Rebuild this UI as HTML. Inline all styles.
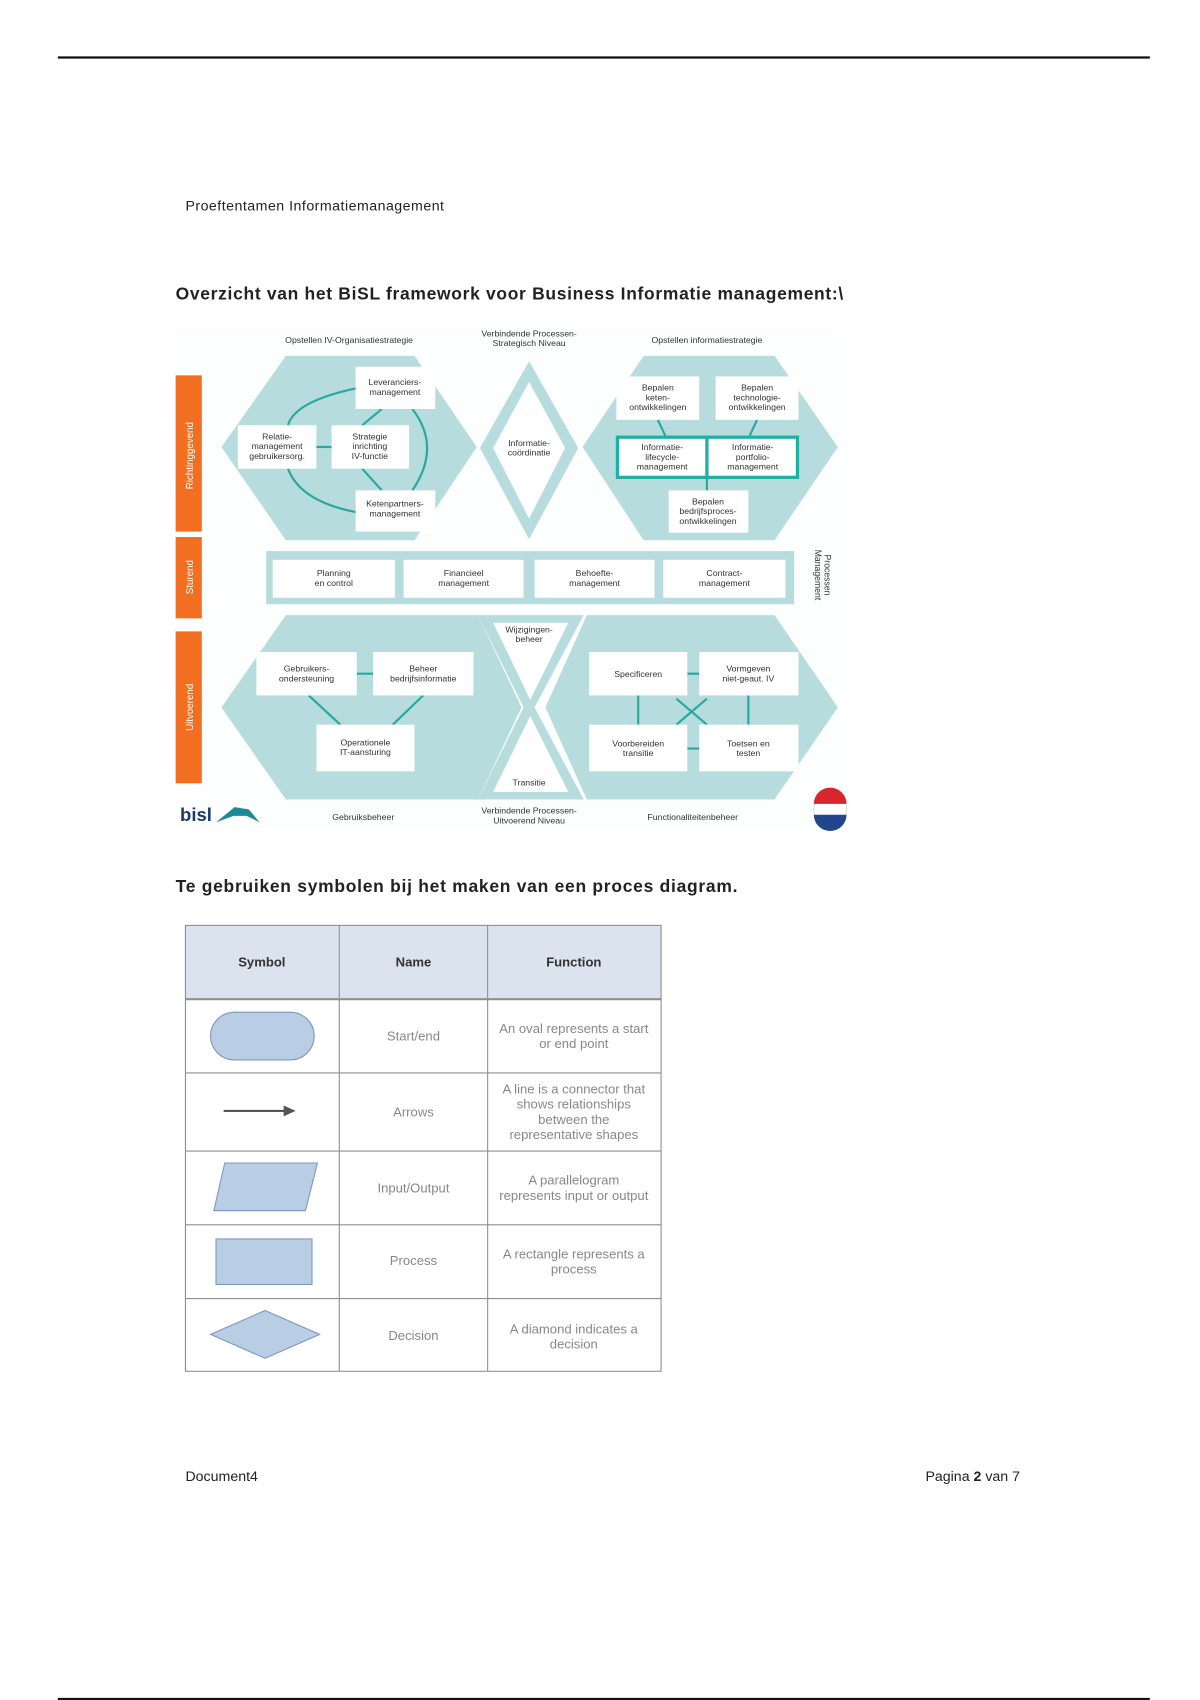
<!DOCTYPE html>
<html><head><meta charset="utf-8"><style>
html,body{margin:0;padding:0;background:#fff;}
svg{display:block;}
text{font-family:"Liberation Sans",sans-serif;}
</style></head><body>
<svg width="1200" height="1700" viewBox="0 0 1100 1567" preserveAspectRatio="none" xmlns="http://www.w3.org/2000/svg">
<rect width="1100" height="1567" fill="#fff"/>
<line x1="53" y1="53" x2="1054" y2="53" stroke="#111" stroke-width="2"/>
<line x1="53" y1="1566" x2="1054" y2="1566" stroke="#111" stroke-width="2"/>
<text x="170" y="194" font-size="13" fill="#222" textLength="237">Proeftentamen Informatiemanagement</text>
<text x="161" y="276" font-size="16" font-weight="bold" fill="#222" textLength="612">Overzicht van het BiSL framework voor Business Informatie management:\</text>

<g>
<rect x="160" y="300" width="620" height="465" fill="#fdfefe"/>
<rect x="161" y="346" width="24" height="144" fill="#f26f21"/>
<rect x="161" y="495" width="24" height="75" fill="#f26f21"/>
<rect x="161" y="582" width="24" height="140" fill="#f26f21"/>
<g font-size="9" fill="#fff" text-anchor="middle">
<text transform="translate(177,420) rotate(-90)">Richtinggevend</text>
<text transform="translate(177,532) rotate(-90)">Sturend</text>
<text transform="translate(177,652) rotate(-90)">Uitvoerend</text>
</g>
<g fill="#b7dcdd">
<polygon points="203,412 262,328 380,328 437,412 380,498 262,498"/>
<polygon points="534,412 590,328 710,328 768,412 710,498 590,498"/>
<polygon points="485,333 530,413 485,497 440,413"/>
<rect x="244" y="508" width="484" height="49"/>
<polygon points="203,652 262,567 438,567 478,652 438,737 262,737"/>
<polygon points="500,652 538,567 710,567 768,652 710,737 538,737"/>
<polygon points="438,567 535,567 490,652 535,737 438,737 480,652"/>
</g>
<polygon points="485,352 518,413 485,478 452,413" fill="#fff"/>
<polygon points="452,574 521,574 486,645" fill="#fff"/>
<polygon points="486,660 521,730 452,730" fill="#fff"/>
<g stroke="#2aa8a0" stroke-width="2" fill="none">
<path d="M326,358 Q270,370 264,392"/>
<path d="M264,432 Q275,462 326,472"/>
<path d="M378,377 Q405,412 378,452"/>
<line x1="350" y1="377" x2="332" y2="392"/><line x1="332" y1="432" x2="350" y2="452"/>
<line x1="290" y1="412" x2="304" y2="412"/>
<line x1="603" y1="387" x2="610" y2="402"/><line x1="694" y1="387" x2="687" y2="402"/>
<line x1="648" y1="441" x2="648" y2="452"/>
<line x1="327" y1="621" x2="342" y2="621"/>
<line x1="283" y1="641" x2="312" y2="668"/><line x1="388" y1="641" x2="360" y2="668"/>
<line x1="630" y1="621" x2="641" y2="621"/><line x1="630" y1="690" x2="641" y2="690"/>
<line x1="585" y1="641" x2="585" y2="668"/><line x1="686" y1="641" x2="686" y2="668"/>
<line x1="620" y1="644" x2="648" y2="668"/><line x1="648" y1="644" x2="620" y2="668"/>
</g>
<g fill="#fff">
<rect x="326" y="338" width="73" height="39"/><rect x="218" y="392" width="72" height="40"/>
<rect x="304" y="392" width="71" height="40"/><rect x="326" y="452" width="73" height="38"/>
<rect x="565" y="347" width="76" height="40"/><rect x="656" y="347" width="76" height="40"/>
<rect x="613" y="452" width="73" height="39"/>
<rect x="250" y="516" width="112" height="35"/><rect x="370" y="516" width="110" height="35"/>
<rect x="490" y="516" width="110" height="35"/><rect x="608" y="516" width="112" height="35"/>
<rect x="235" y="601" width="92" height="40"/><rect x="342" y="601" width="92" height="40"/>
<rect x="290" y="668" width="90" height="43"/>
<rect x="540" y="601" width="90" height="40"/><rect x="641" y="601" width="91" height="40"/>
<rect x="540" y="668" width="90" height="43"/><rect x="641" y="668" width="91" height="43"/>
</g>
<rect x="566" y="403" width="165" height="37" fill="#fff" stroke="#1fb0a5" stroke-width="3"/>
<line x1="648" y1="403" x2="648" y2="440" stroke="#1fb0a5" stroke-width="3"/>
<g font-size="8" fill="#333" text-anchor="middle" font-family="Liberation Serif, serif">
<text x="362" y="355">Leveranciers-</text><text x="362" y="364">management</text>
<text x="254" y="405">Relatie-</text><text x="254" y="414">management</text><text x="254" y="423">gebruikersorg.</text>
<text x="339" y="405">Strategie</text><text x="339" y="414">inrichting</text><text x="339" y="423">IV-functie</text>
<text x="362" y="467">Ketenpartners-</text><text x="362" y="476">management</text>
<text x="485" y="411">Informatie-</text><text x="485" y="420">coördinatie</text>
<text x="603" y="360">Bepalen</text><text x="603" y="369">keten-</text><text x="603" y="378">ontwikkelingen</text>
<text x="694" y="360">Bepalen</text><text x="694" y="369">technologie-</text><text x="694" y="378">ontwikkelingen</text>
<text x="607" y="415">Informatie-</text><text x="607" y="424">lifecycle-</text><text x="607" y="433">management</text>
<text x="690" y="415">Informatie-</text><text x="690" y="424">portfolio-</text><text x="690" y="433">management</text>
<text x="649" y="465">Bepalen</text><text x="649" y="474">bedrijfsproces-</text><text x="649" y="483">ontwikkelingen</text>
<text x="306" y="531">Planning</text><text x="306" y="540">en control</text>
<text x="425" y="531">Financieel</text><text x="425" y="540">management</text>
<text x="545" y="531">Behoefte-</text><text x="545" y="540">management</text>
<text x="664" y="531">Contract-</text><text x="664" y="540">management</text>
<text x="281" y="619">Gebruikers-</text><text x="281" y="628">ondersteuning</text>
<text x="388" y="619">Beheer</text><text x="388" y="628">bedrijfsinformatie</text>
<text x="335" y="687">Operationele</text><text x="335" y="696">IT-aansturing</text>
<text x="485" y="583">Wijzigingen-</text><text x="485" y="592">beheer</text>
<text x="485" y="724">Transitie</text>
<text x="585" y="624">Specificeren</text>
<text x="686" y="619">Vormgeven</text><text x="686" y="628">niet-geaut. IV</text>
<text x="585" y="688">Voorbereiden</text><text x="585" y="697">transitie</text>
<text x="686" y="688">Toetsen en</text><text x="686" y="697">testen</text>
<text x="320" y="316">Opstellen IV-Organisatiestrategie</text>
<text x="485" y="310">Verbindende Processen-</text><text x="485" y="319">Strategisch Niveau</text>
<text x="648" y="316">Opstellen informatiestrategie</text>
<text x="333" y="756">Gebruiksbeheer</text>
<text x="485" y="750">Verbindende Processen-</text><text x="485" y="759">Uitvoerend Niveau</text>
<text x="635" y="756">Functionaliteitenbeheer</text>
<text transform="translate(747,530) rotate(90)">Management</text>
<text transform="translate(756,530) rotate(90)">Processen</text>
</g>
<text x="165" y="757" font-size="17" font-weight="bold" fill="#1a3a6b">bisl</text>
<path d="M198,758 L215,744 L228,746 L238,758 L226,752 L214,752 Z" fill="#1a8a9a"/>
<circle cx="761" cy="746" r="15" fill="#fff" stroke="#ddd"/>
<path d="M746,741 A15,15 0 0 1 776,741 Z" fill="#d8262f"/>
<path d="M746,751 A15,15 0 0 0 776,751 Z" fill="#21468b"/>
</g>

<text x="161" y="822" font-size="16" font-weight="bold" fill="#222" textLength="515">Te gebruiken symbolen bij het maken van een proces diagram.</text>

<rect x="170" y="853" width="436" height="68" fill="#dbe3ef"/>
<g stroke="#8f8f8f" stroke-width="1" fill="none">
<rect x="170" y="853" width="436" height="411"/>
<line x1="311" y1="853" x2="311" y2="1264"/><line x1="447" y1="853" x2="447" y2="1264"/>
<line x1="170" y1="921" x2="606" y2="921" stroke-width="2"/>
<line x1="170" y1="989" x2="606" y2="989"/><line x1="170" y1="1061" x2="606" y2="1061"/>
<line x1="170" y1="1129" x2="606" y2="1129"/><line x1="170" y1="1197" x2="606" y2="1197"/>
</g>
<g font-size="12" font-weight="bold" fill="#333" text-anchor="middle">
<text x="240" y="891">Symbol</text><text x="379" y="891">Name</text><text x="526" y="891">Function</text>
</g>
<g fill="#b9cde5" stroke="#7d98bd" stroke-width="1">
<rect x="193" y="933" width="95" height="44" rx="22"/>
<polygon points="206,1072 291,1072 280,1116 196,1116"/>
<rect x="198" y="1142" width="88" height="42"/>
<polygon points="243,1208 293,1230 243,1252 193,1230"/>
</g>
<line x1="205" y1="1024" x2="262" y2="1024" stroke="#555" stroke-width="2"/>
<polygon points="271,1024 260,1019 260,1029" fill="#555"/>
<g font-size="12" fill="#888" text-anchor="middle">
<text x="379" y="959">Start/end</text><text x="379" y="1029">Arrows</text>
<text x="379" y="1099">Input/Output</text><text x="379" y="1166">Process</text><text x="379" y="1235">Decision</text>
<text x="526" y="952">An oval represents a start</text><text x="526" y="966">or end point</text>
<text x="526" y="1008">A line is a connector that</text><text x="526" y="1022">shows relationships</text>
<text x="526" y="1036">between the</text><text x="526" y="1050">representative shapes</text>
<text x="526" y="1092">A parallelogram</text><text x="526" y="1106">represents input or output</text>
<text x="526" y="1160">A rectangle represents a</text><text x="526" y="1174">process</text>
<text x="526" y="1229">A diamond indicates a</text><text x="526" y="1243">decision</text>
</g>

<text x="170" y="1365" font-size="13" fill="#222">Document4</text>
<text x="935" y="1365" font-size="13" fill="#222" text-anchor="end">Pagina <tspan font-weight="bold">2</tspan> van 7</text>
</svg>
</body></html>
